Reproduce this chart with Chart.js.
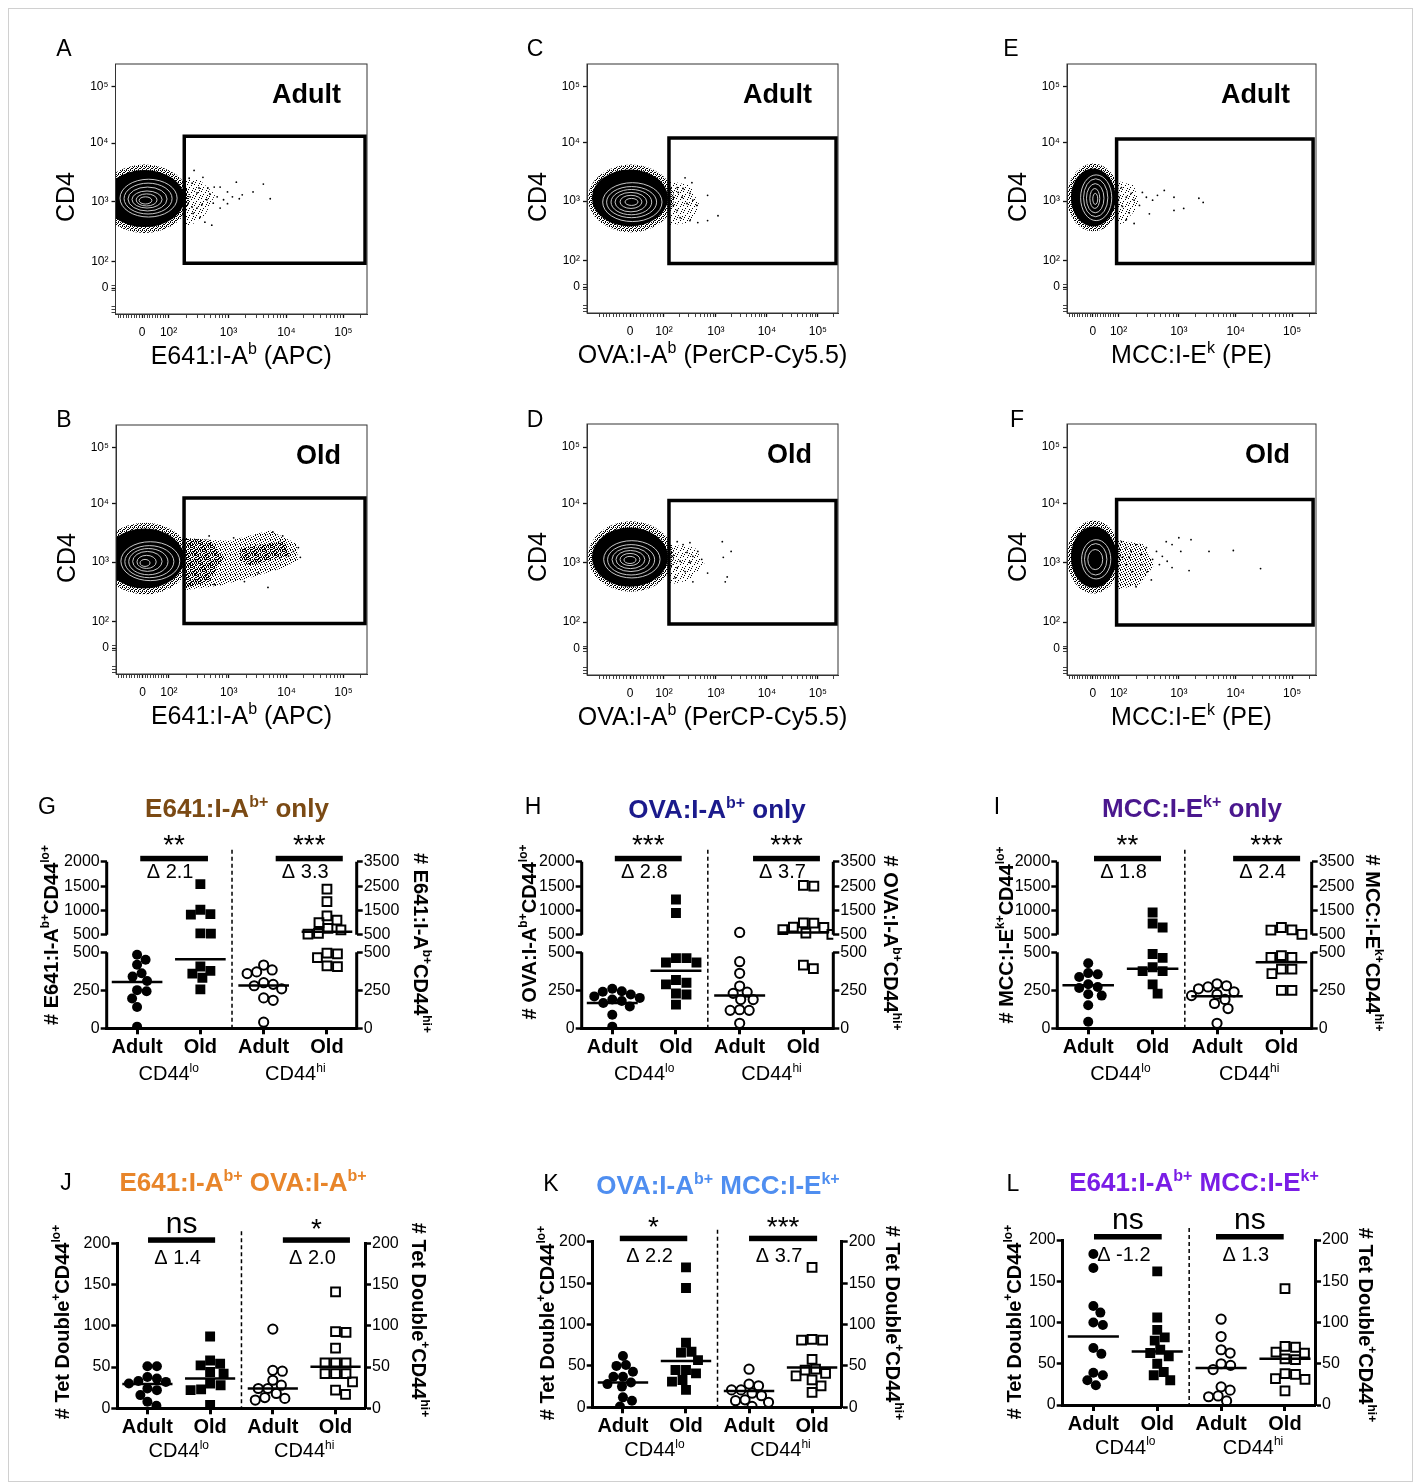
<!DOCTYPE html>
<html>
<head>
<meta charset="utf-8">
<script src="https://cdn.jsdelivr.net/npm/chart.js@4.4.1/dist/chart.umd.min.js"></script>
<style>
  html, body { margin: 0; padding: 0; background: #fff; }
  #fig { position: relative; width: 1414px; height: 1484px; overflow: hidden; }
  #frame { position: absolute; left: 8px; top: 8px; width: 1403px; height: 1472px; border: 1px solid #d0d0d0; }
  canvas { position: absolute; }
</style>
</head>
<body>
<div id="fig"><div id="frame"></div></div>
<script>
const FONT = '"Liberation Sans", Arial, Helvetica, sans-serif';
Chart.defaults.font.family = FONT;

// ---------- A–F: flow plots, values in display channels (0–256) ----------
const decadeLabels = ['0', '10²', '10³', '10⁴', '10⁵'];
const cd4TickCh = [26.6, 54, 115, 175, 232.5];
const e641TickCh = [27, 54, 115, 174, 232];
const ovaTickCh = [44, 78.5, 131.5, 183.5, 235.5];
const mccTickCh = [26.5, 53, 115, 173.5, 231.5];

// gates [xLow, xHigh, yLow, yHigh]
const gateA = [70, 254, 52, 182];
const gateB = [69.4, 254, 52, 181];
const gateC = [83.6, 254, 51, 180];
const gateD = [83.6, 254, 52, 178];
const gateE = [51, 253, 51, 179];
const gateF = [51, 253, 51, 179];

// main population: dense core, speckled fringe, contour levels [xLow, xHigh, yLow, yHigh]
const coreA = [-11, 70, 89, 147.5];
const haloA = [-16, 75, 83, 153];
const ringsA = [[4.6, 62.7, 99.3, 138], [8.7, 57.6, 102.4, 134], [12.7, 52.5, 105.5, 130], [16.8, 47.4, 108.5, 126], [21, 42.3, 110.6, 123], [24, 37, 112.6, 120]];
const coreB = [-11, 69.4, 88, 149.5];
const haloB = [-16, 75.5, 82, 155.6];
const ringsB = [[5, 65, 96, 136], [9, 59, 99, 132], [13, 53, 102, 129], [17, 47, 105.5, 126], [21.4, 41, 108.5, 122], [24.5, 34.7, 110.6, 117.8]];
const coreC = [5, 82.6, 89, 147.5];
const haloC = [1, 88.7, 83, 152.6];
const ringsC = [[16, 76.5, 94, 134], [20, 71, 98, 130], [24.5, 66, 101, 127], [28.6, 61, 104, 124], [33.7, 56, 107.5, 121], [38.8, 52, 110.6, 117.8]];
const coreD = [5, 82.6, 90, 150.5];
const haloD = [1, 88.7, 85, 156.7];
const ringsD = [[17, 74.5, 99, 137], [21, 69, 102, 133], [25.5, 64, 105.5, 130], [29.6, 59, 108.5, 127], [33.7, 54, 111.6, 124], [37.7, 50, 113.7, 121]];
const coreE = [4, 50, 89, 148.5];
const haloE = [0, 54, 84, 153.6];
const ringsE = [[14, 46, 95, 142], [17, 42, 99, 138], [20, 38, 103, 133], [23.5, 33.7, 107.5, 128], [26.5, 31.6, 111.6, 123]];
const coreF = [4, 51, 89, 151.5];
const haloF = [0, 55, 83, 157.7];
const ringsF = [[15, 45, 98, 138], [18, 41, 102, 134], [21.4, 36.7, 107.5, 128]];

// sparse event clouds right of the main population
const tailA = [[70, 139], [86, 137], [101.5, 122], [91, 101], [76, 90], [70, 90]];
const tailB = [[69, 139], [116, 137], [157, 147.5], [184.5, 134], [185.5, 117], [172, 109.5], [136.5, 99], [106, 91], [69, 86]];
const tailB2 = [[126.5, 129], [172.5, 137], [177.5, 122], [136.5, 111.6], [126.5, 116.7]];
const tailB3 = [[69, 140], [95, 138], [110, 120], [95, 95], [69, 88]];
const tailC = [[83.6, 136], [105, 131], [115, 110.6], [105, 93], [83.6, 90]];
const tailD = [[83.6, 133], [110, 130], [120, 113], [105, 97], [83.6, 92]];
const tailE = [[51, 136], [69, 131], [74.5, 110.6], [59, 93], [51, 90]];
const tailF = [[51, 138], [79.6, 133], [90, 112.6], [74.5, 92], [51, 87]];

const dotsA = [[80, 147], [89, 140], [100.5, 130], [123, 135], [150.5, 133], [140, 125], [129, 122], [119, 120], [110, 117], [103.5, 120], [96, 123], [93, 117], [88, 112], [83, 108.5], [79, 103], [86, 99], [98, 91], [91, 94], [157.5, 118], [126, 118], [114, 113], [106.5, 108.5], [99.5, 113.5], [76, 120], [74, 113.5], [78, 109.5], [83, 124], [85, 129], [94, 129], [78, 134], [75, 139], [106.5, 130], [114, 125]];
const dotsB = [[155, 89], [176, 121], [181, 126], [186, 130], [170, 142], [160, 146], [100, 92], [145, 104], [131, 95], [188, 120], [120, 140], [95, 142]];
const dotsC = [[92, 129], [100, 139], [107, 134], [105, 123], [108, 116], [112, 110.6], [102, 112.6], [97, 119], [92, 105.5], [95, 98], [105, 95], [113, 93], [123, 95], [133.6, 100], [123, 121], [93, 124], [98, 128], [88, 110.6], [88, 119]];
const dotsD = [[92, 136], [98, 133], [105, 135], [102, 125], [108, 121], [113, 126], [117, 118], [105, 115], [95, 116], [92, 109.6], [100, 105.5], [108, 95], [123, 104], [138, 136], [139, 120], [147, 126], [141, 95], [143, 100], [90, 99], [87, 121]];
const dotsE = [[56, 129], [61, 119], [66, 123], [69, 116], [74.5, 110.6], [77.5, 124], [81.6, 119], [88, 116], [93, 121], [100, 126], [110, 119], [120, 107.5], [110, 105.5], [135.6, 118], [140, 113.7], [84.7, 102], [69, 92], [61, 96], [57, 109.6], [64, 103]];
const dotsF = [[56, 136], [61, 130], [66, 126], [71, 133], [76.5, 123], [81.6, 130], [88, 118], [92, 126], [98, 121], [103, 116], [108, 133], [115, 140], [117, 126], [127.5, 138], [108, 109.6], [95, 112.6], [86.7, 97], [71, 90], [67, 105.5], [61, 112.6], [57, 120], [146, 126], [171, 127], [199, 108.5], [125.5, 106.5], [102, 136], [77.5, 112.6], [64, 120], [82.6, 105.5]];

// ---------- G–L: cell numbers per mouse ----------
const groupLabels = ['Adult', 'Old', 'Adult', 'Old'];
const lowTicks = [0, 250, 500];
const upTicksLo = [500, 1000, 1500, 2000];
const upTicksHi = [500, 1500, 2500, 3500];
const plainTicks = [0, 50, 100, 150, 200];

const gAdultLo = [484, 451, 418, 362, 340, 311, 251, 244, 196, 140, 11];
const gOldLo = [1541, 1014, 925, 915, 530, 525, 407, 378, 360, 333, 256];
const gAdultHi = [416, 384, 371, 360, 300, 289, 280, 260, 200, 184, 40];
const gOldHi = [2380, 1860, 1280, 1100, 1000, 760, 700, 560, 530, 495, 490, 465, 410, 405];
const gLines = [305, 455, 282, 623];
const gSig = ['**', '***'];
const gDelta = ['Δ 2.1', 'Δ 3.3'];

const hAdultLo = [260, 244, 240, 222, 210, 200, 189, 180, 167, 144, 89, 11];
const hOldLo = [1226, 949, 462, 462, 433, 433, 318, 300, 289, 229, 222, 156];
const hAdultHi = [597, 438, 362, 278, 238, 230, 189, 189, 122, 118, 118, 33];
const hOldHi = [2530, 2500, 990, 980, 820, 800, 710, 570, 520, 416, 393];
const hLines = [167, 378, 216, 597];
const hSig = ['***', '***'];
const hDelta = ['Δ 2.8', 'Δ 3.7'];

const iAdultLo = [428, 363, 355, 337, 290, 272, 265, 224, 215, 152, 43];
const iOldLo = [957, 732, 650, 489, 463, 402, 376, 376, 289, 228];
const iAdultHi = [293, 280, 272, 260, 240, 224, 215, 190, 163, 130, 33];
const iOldHi = [800, 700, 690, 520, 478, 467, 467, 390, 390, 359, 250, 250];
const iLines = [283, 391, 211, 435];
const iSig = ['**', '***'];
const iDelta = ['Δ 1.8', 'Δ 2.4'];

const jAdultLo = [51, 51, 38, 36, 33, 32, 30, 24, 22, 16, 8, 3];
const jOldLo = [87, 58, 54, 52, 44, 42, 30, 28, 23, 22, 4];
const jAdultHi = [96, 46, 45, 34, 28, 24, 24, 18, 13, 12, 10];
const jOldHi = [141, 93, 92, 73, 55, 55, 55, 42, 42, 42, 32, 22, 17];
const jLines = [29.5, 36, 24, 50.5];
const jSig = ['ns', '*'];
const jDelta = ['Δ 1.4', 'Δ 2.0'];

const kAdultLo = [62, 51, 50, 43, 37, 37, 30, 28, 25, 12, 8, 1];
const kOldLo = [169, 144, 78, 67, 66, 57, 45, 45, 41, 33, 31, 21];
const kAdultHi = [46, 28, 26, 21, 21, 17, 14, 9, 8, 6, 1];
const kOldHi = [169, 82, 81, 81, 58, 46, 45, 41, 38, 33, 26, 18];
const kLines = [30, 56, 19.7, 48];
const kSig = ['*', '***'];
const kDelta = ['Δ 2.2', 'Δ 3.7'];

const lAdultLo = [183, 166, 120, 112, 100, 97, 69, 62, 39, 36, 30, 24];
const lOldLo = [162, 106, 91, 82, 78, 67, 63, 59, 50, 40, 36, 30];
const lAdultHi = [104, 83, 67, 63, 50, 48, 43, 22, 18, 11, 10, 5];
const lOldHi = [141, 71, 70, 64, 63, 56, 55, 38, 37, 32, 31, 17];
const lLines = [83, 65, 45, 56];
const lSig = ['ns', 'ns'];
const lDelta = ['Δ -1.2', 'Δ 1.3'];

// ---------- helpers ----------
const fig = document.getElementById('fig');
function makeCanvas(x, y, w, h) {
  const c = document.createElement('canvas');
  c.width = w; c.height = h;
  c.style.left = x + 'px'; c.style.top = y + 'px';
  c.style.width = w + 'px'; c.style.height = h + 'px';
  fig.appendChild(c);
  return c;
}

// text with superscript parts: [[text], [text, 1], ...]
function drawRich(ctx, parts, x, y, o) {
  const size = o.size, weight = o.weight || 'normal', sub = Math.round(size * 0.62);
  ctx.save();
  ctx.translate(x, y);
  if (o.rot) ctx.rotate(o.rot);
  ctx.fillStyle = o.color || '#000';
  ctx.textBaseline = 'middle';
  ctx.textAlign = 'left';
  let w = 0;
  parts.forEach(([t, sup]) => { ctx.font = `${weight} ${sup ? sub : size}px ${FONT}`; w += ctx.measureText(t).width; });
  let cx = o.align === 'left' ? 0 : o.align === 'right' ? -w : -w / 2;
  parts.forEach(([t, sup]) => {
    ctx.font = `${weight} ${sup ? sub : size}px ${FONT}`;
    ctx.fillText(t, cx, sup ? -size * 0.3 : 0);
    cx += ctx.measureText(t).width;
  });
  ctx.restore();
}

function makePattern(ctx, size, cells) {
  const c = document.createElement('canvas');
  c.width = c.height = size;
  const g = c.getContext('2d');
  g.fillStyle = '#000';
  cells.forEach(([x, y]) => g.fillRect(x, y, 1, 1));
  return ctx.createPattern(c, 'repeat');
}
const lightCells = [[0, 0], [4, 1], [2, 3], [6, 4], [1, 5], [5, 6]];
const midCells = [[0, 0], [3, 1], [1, 2], [4, 3], [2, 4], [0, 4]];
const denseCells = [[0, 0], [2, 0], [1, 1], [3, 2], [0, 2], [2, 3]];

// ---------- flow panels ----------
function flowTicks(major, isY) {
  const t = major.map((v, i) => ({ value: v, text: decadeLabels[i], major: true }));
  const step = (major[1] - major[0]) / 10;
  const ks = isY ? [-9, -8, -7, -1, 1] : [-9, -8, -7, -6, -5, -4, -3, -2, -1, 1, 2, 3, 4, 5, 6, 7, 8, 9];
  ks.forEach(k => { const v = major[0] + k * step; if (v > 0) t.push({ value: v, text: '', major: false }); });
  if (!isY) {
    for (let d = 1; d < major.length; d++) {
      const a = major[d], b = d + 1 < major.length ? major[d + 1] : 2 * a - major[d - 1];
      for (let m = 2; m <= 9; m++) {
        const v = a + Math.log10(m) * (b - a);
        if (v < 256) t.push({ value: v, text: '', major: false });
      }
    }
  }
  return t.sort((p, q) => p.value - q.value);
}

function flowAxis(ticks, isX, size) {
  return {
    type: 'linear', min: 0, max: 256,
    afterBuildTicks: s => { s.ticks = ticks.map(t => ({ ...t })); },
    afterFit: s => { if (isX) s.height = size; else s.width = size; },
    ticks: {
      autoSkip: false, maxRotation: 0, color: '#000', padding: isX ? 7 : 3,
      font: { family: FONT, size: 12 },
      callback: (v, i, arr) => arr[i].text
    },
    grid: { drawOnChartArea: false, tickLength: 4, tickColor: '#111', tickWidth: c => (c.tick && c.tick.major) ? 1.3 : 0.8 },
    border: { color: '#333', width: 1 }
  };
}

function flowDecor(p) {
  let pats = null;
  const ox = p.cv[0], oy = p.cv[1];
  return {
    id: 'flow' + p.id,
    beforeDatasetsDraw(chart) {
      const ctx = chart.ctx, a = chart.chartArea, xs = chart.scales.x, ys = chart.scales.y;
      if (!pats) pats = [makePattern(ctx, 7, lightCells), makePattern(ctx, 5, midCells), makePattern(ctx, 4, denseCells)];
      const X = v => xs.getPixelForValue(v), Y = v => ys.getPixelForValue(v);
      const ellipse = b => {
        ctx.beginPath();
        ctx.ellipse((X(b[0]) + X(b[1])) / 2, (Y(b[2]) + Y(b[3])) / 2,
          Math.abs(X(b[1]) - X(b[0])) / 2, Math.abs(Y(b[3]) - Y(b[2])) / 2, 0, 0, 2 * Math.PI);
      };
      ctx.save();
      ctx.beginPath(); ctx.rect(a.left, a.top, a.right - a.left, a.bottom - a.top); ctx.clip();
      p.tails.forEach((poly, i) => {
        ctx.beginPath();
        poly.forEach(([x, y], j) => j ? ctx.lineTo(X(x), Y(y)) : ctx.moveTo(X(x), Y(y)));
        ctx.closePath();
        ctx.fillStyle = pats[p.tailDensity[i]];
        ctx.fill();
      });
      ellipse(p.halo); ctx.fillStyle = pats[2]; ctx.fill();
      ellipse(p.core); ctx.fillStyle = '#000'; ctx.fill();
      ctx.strokeStyle = '#dddddd'; ctx.lineWidth = 0.9;
      p.rings.forEach(r => { ellipse(r); ctx.stroke(); });
      ctx.restore();
    },
    afterDraw(chart) {
      const ctx = chart.ctx, a = chart.chartArea;
      ctx.save();
      ctx.strokeStyle = '#333'; ctx.lineWidth = 1;
      ctx.strokeRect(a.left, a.top, a.right - a.left, a.bottom - a.top);
      ctx.fillStyle = '#000';
      ctx.font = `bold 27px ${FONT}`; ctx.textAlign = 'right'; ctx.textBaseline = 'middle';
      ctx.fillText(p.group, a.right - 26, a.top + 32);
      ctx.font = `23px ${FONT}`; ctx.textAlign = 'center';
      ctx.fillText(p.id, p.letter[0] - ox, p.letter[1] - oy);
      drawRich(ctx, p.xTitle, (a.left + a.right) / 2, a.bottom + 43, { size: 25 });
      drawRich(ctx, [['CD4']], a.left - 48, a.top + 133, { size: 25, rot: -Math.PI / 2 });
      ctx.restore();
    }
  };
}

function flowChart(p) {
  const [cx, cy, cw, ch] = p.cv;
  const canvas = makeCanvas(cx, cy, cw, ch);
  const YW = 38, XH = 30;
  const g = p.gate;
  const gatePts = [[g[0], g[2]], [g[1], g[2]], [g[1], g[3]], [g[0], g[3]], [g[0], g[2]], [g[1], g[2]]];
  new Chart(canvas, {
    type: 'scatter',
    data: {
      datasets: [
        { data: p.dots.map(([x, y]) => ({ x, y })), pointRadius: 0.9, backgroundColor: '#000', borderWidth: 0, order: 1 },
        { data: gatePts.map(([x, y]) => ({ x, y })), showLine: true, borderColor: '#000', borderWidth: 3.5,
          pointRadius: 0, borderJoinStyle: 'miter', order: 0 }
      ]
    },
    options: {
      responsive: false, animation: false, events: [],
      layout: { padding: { left: p.area.l - cx - YW, right: cx + cw - p.area.r, top: p.area.t - cy, bottom: cy + ch - p.area.b - XH } },
      plugins: { legend: { display: false }, tooltip: { enabled: false } },
      scales: { x: flowAxis(flowTicks(p.xTicks, false), true, XH), y: flowAxis(flowTicks(cd4TickCh, true), false, YW) }
    },
    plugins: [flowDecor(p)]
  });
}

const e641Title = [['E641:I-A'], ['b', 1], [' (APC)']];
const ovaTitle = [['OVA:I-A'], ['b', 1], [' (PerCP-Cy5.5)']];
const mccTitle = [['MCC:I-E'], ['k', 1], [' (PE)']];

[
  { id: 'A', cv: [40, 30, 350, 345], area: { l: 115.5, r: 367, t: 64, b: 314 }, letter: [64, 50], group: 'Adult',
    xTicks: e641TickCh, xTitle: e641Title, gate: gateA, core: coreA, halo: haloA, rings: ringsA, tails: [tailA], tailDensity: [0], dots: dotsA },
  { id: 'B', cv: [40, 395, 350, 345], area: { l: 116, r: 367, t: 425, b: 674 }, letter: [64, 421], group: 'Old',
    xTicks: e641TickCh, xTitle: e641Title, gate: gateB, core: coreB, halo: haloB, rings: ringsB, tails: [tailB, tailB2, tailB3], tailDensity: [1, 2, 2], dots: dotsB },
  { id: 'C', cv: [515, 30, 350, 345], area: { l: 587, r: 838, t: 64, b: 313 }, letter: [535, 50], group: 'Adult',
    xTicks: ovaTickCh, xTitle: ovaTitle, gate: gateC, core: coreC, halo: haloC, rings: ringsC, tails: [tailC], tailDensity: [0], dots: dotsC },
  { id: 'D', cv: [515, 395, 350, 345], area: { l: 587, r: 838, t: 424, b: 675 }, letter: [535, 421], group: 'Old',
    xTicks: ovaTickCh, xTitle: ovaTitle, gate: gateD, core: coreD, halo: haloD, rings: ringsD, tails: [tailD], tailDensity: [0], dots: dotsD },
  { id: 'E', cv: [995, 30, 350, 345], area: { l: 1067, r: 1316, t: 64, b: 313 }, letter: [1011, 50], group: 'Adult',
    xTicks: mccTickCh, xTitle: mccTitle, gate: gateE, core: coreE, halo: haloE, rings: ringsE, tails: [tailE], tailDensity: [0], dots: dotsE },
  { id: 'F', cv: [995, 395, 350, 345], area: { l: 1067, r: 1316, t: 424, b: 675 }, letter: [1017, 421], group: 'Old',
    xTicks: mccTickCh, xTitle: mccTitle, gate: gateF, core: coreF, halo: haloF, rings: ringsF, tails: [tailF], tailDensity: [1], dots: dotsF }
].forEach(flowChart);

// ---------- dot plots (broken axis: lower 0–500, upper 500–max) ----------
const LOW_PX = 76, GAP_PX = 17.5, UP_PX = 73;
const UNIT = 500 / LOW_PX;
const GAP = GAP_PX * UNIT, UP = UP_PX * UNIT;
const segUp = (v, max) => 500 + GAP + (v - 500) / (max - 500) * UP;
const seg = (v, max) => v <= 500 ? v : segUp(v, max);

function dotYAxis(pos, up, yMax, width) {
  const ticks = up
    ? [...lowTicks.map(v => ({ value: v, text: String(v) })), ...up.map(v => ({ value: segUp(v, up[up.length - 1]), text: String(v) }))]
    : plainTicks.map(v => ({ value: v, text: String(v) }));
  return {
    type: 'linear', position: pos, min: 0, max: yMax,
    afterBuildTicks: s => { s.ticks = ticks.map(t => ({ ...t })); },
    afterFit: s => { s.width = width; },
    ticks: { autoSkip: false, color: '#000', padding: 1, font: { family: FONT, size: 16 }, callback: (v, i, arr) => arr[i].text },
    grid: { drawOnChartArea: false, tickLength: 6, tickWidth: 2.5, tickColor: '#000' },
    border: { display: !up, color: '#000', width: 3 }
  };
}

function swarm(chart) {
  const xs = chart.scales.x;
  const unit = xs.getPixelForValue(1) - xs.getPixelForValue(0);
  chart.data.datasets.forEach(ds => {
    if (!ds.swarm) return;
    const ys = chart.scales[ds.yAxisID];
    const D = ds.swarm, placed = [];
    const pts = ds.data.map(q => ({ ...q }));
    const idx = pts.map((_, i) => i).sort((a, b) => pts[b].y - pts[a].y);
    idx.forEach(i => {
      const py = ys.getPixelForValue(pts[i].y);
      let off = 0;
      for (let k = 0; k < 300; k++) {
        const c = k === 0 ? 0 : (k % 2 ? 1 : -1) * Math.ceil(k / 2) * 0.5;
        if (placed.every(q => (q[0] - c) ** 2 + (q[1] - py) ** 2 >= D * D)) { off = c; break; }
      }
      placed.push([off, py]);
      pts[i].x += off / unit;
    });
    ds.data = pts;
  });
  chart.update('none');
}

function dotDecor(p, yMax) {
  const ox = p.cv[0], oy = p.cv[1];
  return {
    id: 'dot' + p.id,
    afterDraw(chart) {
      const ctx = chart.ctx, a = chart.chartArea, xs = chart.scales.x, ys = chart.scales.y;
      ctx.save();
      ctx.fillStyle = '#000'; ctx.strokeStyle = '#000';
      if (p.broken) {
        ctx.lineWidth = 3;
        [a.left, a.right].forEach(x => {
          ctx.beginPath();
          ctx.moveTo(x, ys.getPixelForValue(0) + 1.5); ctx.lineTo(x, ys.getPixelForValue(500));
          ctx.moveTo(x, ys.getPixelForValue(500 + GAP)); ctx.lineTo(x, ys.getPixelForValue(yMax));
          ctx.stroke();
        });
      }
      const sx = xs.getPixelForValue(1.5);
      ctx.setLineDash([4, 3]); ctx.lineWidth = 1.5;
      ctx.beginPath(); ctx.moveTo(sx, a.top - 12); ctx.lineTo(sx, a.bottom); ctx.stroke();
      ctx.setLineDash([]);
      ctx.textAlign = 'center'; ctx.textBaseline = 'middle';
      p.bars.forEach((b, i) => {
        const x0 = xs.getPixelForValue(b[0]), x1 = xs.getPixelForValue(b[1]);
        ctx.fillRect(x0, a.top - 6, x1 - x0, 5.5);
        const s = p.sig[i];
        ctx.font = s === 'ns' ? `30px ${FONT}` : `28px ${FONT}`;
        ctx.fillText(s, (x0 + x1) / 2, s === 'ns' ? a.top - 19 : a.top - (p.broken ? 16 : 13));
        ctx.font = `20px ${FONT}`;
        ctx.fillText(p.delta[i], (x0 + x1) / 2 - 4, a.top + (p.broken ? 11 : 15));
      });
      const gy = a.bottom + (p.broken ? 46 : 43);
      drawRich(ctx, [['CD44'], ['lo', 1]], xs.getPixelForValue(0.5), gy, { size: 20 });
      drawRich(ctx, [['CD44'], ['hi', 1]], xs.getPixelForValue(2.5), gy, { size: 20 });
      ctx.font = `23px ${FONT}`; ctx.textAlign = 'center';
      ctx.fillText(p.id, p.letter[0] - ox, p.letter[1] - oy);
      drawRich(ctx, p.title, p.titlePos[0] - ox, p.titlePos[1] - oy, { size: 26, weight: 'bold', color: p.color });
      drawRich(ctx, p.yTitleL, p.yl[0] - ox, p.yl[1] - oy, { size: 20, weight: 'bold', rot: -Math.PI / 2 });
      drawRich(ctx, p.yTitleR, p.yr[0] - ox, p.yr[1] - oy, { size: 20, weight: 'bold', rot: Math.PI / 2 });
      ctx.restore();
    }
  };
}

function dotChart(p) {
  const [cx, cy, cw, ch] = p.cv;
  const canvas = makeCanvas(cx, cy, cw, ch);
  const YW = 50, XH = 32;
  const yMax = p.broken ? 500 + GAP + UP : 200;
  const lo = v => p.broken ? seg(v, upTicksLo[upTicksLo.length - 1]) : v;
  const hi = v => p.broken ? seg(v, upTicksHi[upTicksHi.length - 1]) : v;
  const pts = (vals, cat, f) => vals.map(v => ({ x: cat, y: f(v) }));
  const meanLine = (i, f) => ({
    data: [{ x: i - 0.4, y: f(p.lines[i]) }, { x: i + 0.4, y: f(p.lines[i]) }],
    showLine: true, borderColor: '#000', borderWidth: 2.5, pointRadius: 0, order: 0, yAxisID: i < 2 ? 'y' : 'y2'
  });
  const chart = new Chart(canvas, {
    type: 'scatter',
    data: {
      datasets: [
        { data: pts(p.adultLo, 0, lo), pointStyle: 'circle', pointRadius: 5, backgroundColor: '#000', borderWidth: 0, yAxisID: 'y', order: 1, swarm: 9.5 },
        { data: pts(p.oldLo, 1, lo), pointStyle: 'rect', pointRadius: 7, backgroundColor: '#000', borderWidth: 0, yAxisID: 'y', order: 1, swarm: 10.5 },
        { data: pts(p.adultHi, 2, hi), pointStyle: 'circle', pointRadius: 4.6, backgroundColor: 'rgba(0,0,0,0)', borderColor: '#000', borderWidth: 2, yAxisID: 'y2', order: 1, swarm: 9.5 },
        { data: pts(p.oldHi, 3, hi), pointStyle: 'rect', pointRadius: 6.2, backgroundColor: 'rgba(0,0,0,0)', borderColor: '#000', borderWidth: 2, yAxisID: 'y2', order: 1, swarm: 10.5 },
        meanLine(0, lo), meanLine(1, lo), meanLine(2, hi), meanLine(3, hi)
      ]
    },
    options: {
      responsive: false, animation: false, events: [],
      layout: { padding: { left: p.area.l - cx - YW, right: cx + cw - p.area.r - YW, top: p.area.t - cy, bottom: cy + ch - p.area.b - XH } },
      plugins: { legend: { display: false }, tooltip: { enabled: false } },
      scales: {
        x: {
          type: 'linear', min: -0.48, max: 3.47,
          afterBuildTicks: s => { s.ticks = groupLabels.map((t, i) => ({ value: i, text: t })); },
          afterFit: s => { s.height = XH; },
          ticks: { autoSkip: false, maxRotation: 0, color: '#000', padding: 1, font: { family: FONT, size: 20, weight: 'bold' }, callback: (v, i, arr) => arr[i].text },
          grid: { drawOnChartArea: false, tickLength: 6, tickWidth: 3, tickColor: '#000' },
          border: { color: '#000', width: 3 }
        },
        y: dotYAxis('left', p.broken ? upTicksLo : null, yMax, YW),
        y2: dotYAxis('right', p.broken ? upTicksHi : null, yMax, YW)
      }
    },
    plugins: [dotDecor(p, yMax)]
  });
  swarm(chart);
}

const tetL = [['# Tet Double'], ['+', 1], ['CD44'], ['lo+', 1]];
const tetR = [['# Tet Double'], ['+', 1], ['CD44'], ['hi+', 1]];

[
  { id: 'G', cv: [30, 785, 420, 310], area: { l: 106.7, r: 356.7, t: 861.8, b: 1028.3 }, broken: true,
    adultLo: gAdultLo, oldLo: gOldLo, adultHi: gAdultHi, oldHi: gOldHi, lines: gLines, sig: gSig, delta: gDelta,
    bars: [[0.05, 1.12], [2.19, 3.25]], title: [['E641:I-A'], ['b+', 1], [' only']], color: '#7b4a14',
    titlePos: [237, 810], letter: [47, 808],
    yTitleL: [['# E641:I-A'], ['b+', 1], ['CD44'], ['lo+', 1]], yTitleR: [['# E641:I-A'], ['b+', 1], ['CD44'], ['hi+', 1]],
    yl: [52, 935], yr: [420, 943] },
  { id: 'H', cv: [500, 785, 425, 310], area: { l: 581.7, r: 833.3, t: 861.8, b: 1028.3 }, broken: true,
    adultLo: hAdultLo, oldLo: hOldLo, adultHi: hAdultHi, oldHi: hOldHi, lines: hLines, sig: hSig, delta: hDelta,
    bars: [[0.04, 1.09], [2.21, 3.26]], title: [['OVA:I-A'], ['b+', 1], [' only']], color: '#1b1a8c',
    titlePos: [717, 811], letter: [533, 808],
    yTitleL: [['# OVA:I-A'], ['b+', 1], ['CD44'], ['lo+', 1]], yTitleR: [['# OVA:I-A'], ['b+', 1], ['CD44'], ['hi+', 1]],
    yl: [530, 932], yr: [890, 943] },
  { id: 'I', cv: [975, 785, 430, 310], area: { l: 1057.3, r: 1311.7, t: 861.8, b: 1028.3 }, broken: true,
    adultLo: iAdultLo, oldLo: iOldLo, adultHi: iAdultHi, oldHi: iOldHi, lines: iLines, sig: iSig, delta: iDelta,
    bars: [[0.09, 1.13], [2.25, 3.29]], title: [['MCC:I-E'], ['k+', 1], [' only']], color: '#4a178e',
    titlePos: [1192, 810], letter: [997, 808],
    yTitleL: [['# MCC:I-E'], ['k+', 1], ['CD44'], ['lo+', 1]], yTitleR: [['# MCC:I-E'], ['k+', 1], ['CD44'], ['hi+', 1]],
    yl: [1007, 935], yr: [1372, 943] },
  { id: 'J', cv: [30, 1160, 420, 315], area: { l: 117.3, r: 365, t: 1243.3, b: 1408.3 }, broken: false,
    adultLo: jAdultLo, oldLo: jOldLo, adultHi: jAdultHi, oldHi: jOldHi, lines: jLines, sig: jSig, delta: jDelta,
    bars: [[0.01, 1.08], [2.16, 3.23]], title: [['E641:I-A'], ['b+', 1], [' OVA:I-A'], ['b+', 1]], color: '#e8852a',
    titlePos: [243, 1184], letter: [66, 1184], yTitleL: tetL, yTitleR: tetR, yl: [63, 1322], yr: [418, 1320] },
  { id: 'K', cv: [505, 1160, 420, 315], area: { l: 592.7, r: 841.7, t: 1241.7, b: 1407.3 }, broken: false,
    adultLo: kAdultLo, oldLo: kOldLo, adultHi: kAdultHi, oldHi: kOldHi, lines: kLines, sig: kSig, delta: kDelta,
    bars: [[-0.05, 1.02], [2.0, 3.08]], title: [['OVA:I-A'], ['b+', 1], [' MCC:I-E'], ['k+', 1]], color: '#4f8ef0',
    titlePos: [718, 1187], letter: [551, 1185], yTitleL: tetL, yTitleR: tetR, yl: [548, 1323], yr: [892, 1323] },
  { id: 'L', cv: [975, 1160, 430, 315], area: { l: 1062.7, r: 1315, t: 1240, b: 1405 }, broken: false,
    adultLo: lAdultLo, oldLo: lOldLo, adultHi: lAdultHi, oldHi: lOldHi, lines: lLines, sig: lSig, delta: lDelta,
    bars: [[0.01, 1.07], [1.92, 2.98]], title: [['E641:I-A'], ['b+', 1], [' MCC:I-E'], ['k+', 1]], color: '#7a1de6',
    titlePos: [1194, 1184], letter: [1013, 1185], yTitleL: tetL, yTitleR: tetR, yl: [1015, 1322], yr: [1365, 1325] }
].forEach(dotChart);
</script>
</body>
</html>
